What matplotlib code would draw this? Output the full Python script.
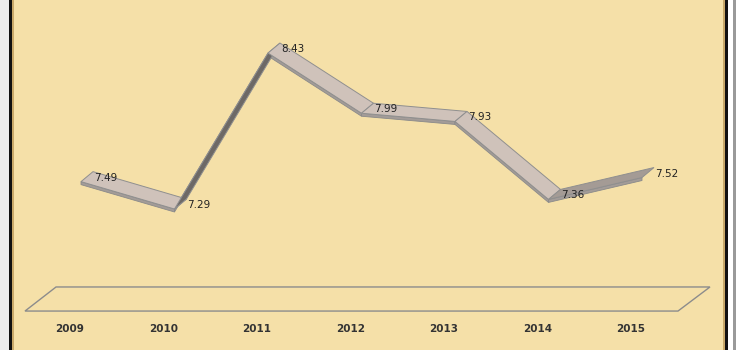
import numpy as np
import matplotlib
matplotlib.use('Agg')
import matplotlib.pyplot as plt
import matplotlib.patches as mpatches
from matplotlib.colors import to_rgb

years = ['2009', '2010', '2011', '2012', '2013', '2014', '2015']
values = [7.49, 7.29, 8.43, 7.99, 7.93, 7.36, 7.52]

# pixels per data unit (x: per category, y: per value unit)
PX_X = 93.5
PX_Y = 136.8
# depth offset of the ribbon and its thickness, in pixels
DEPTH = (12, 10)
THICK = 3

LIGHT = np.array(to_rgb('#cfc2ba'))
DARK = np.array(to_rgb('#6d6966'))

fig = plt.figure(figsize=(7.4, 3.5), dpi=100)
fig.patch.set_facecolor('white')

# decoration layer in pixel coords (frame + parchment)
deco = fig.add_axes([0, 0, 1, 1])
deco.set_xlim(0, 740)
deco.set_ylim(350, 0)
deco.set_axis_off()
deco.add_patch(mpatches.Rectangle((0, 0), 9, 350, color='#ececec', lw=0))
deco.add_patch(mpatches.Rectangle((9, 0), 3, 350, color='#111111', lw=0))
deco.add_patch(mpatches.Rectangle((12, 0), 2, 350, color='#c9a96a', lw=0))
deco.add_patch(mpatches.Rectangle((14, 0), 709, 350, color='#f5e0a8', lw=0))
deco.add_patch(mpatches.Rectangle((723, 0), 2, 350, color='#c9a96a', lw=0))
deco.add_patch(mpatches.Rectangle((725, 0), 3, 350, color='#111111', lw=0))
deco.add_patch(mpatches.Rectangle((733, 0), 3, 350, color='#9a9a9a', lw=0))

ax = fig.add_axes([0, 0, 1, 1])
ax.patch.set_alpha(0)
ax.set_axis_off()
x0, y0 = 81, 209  # pixel position of first category / value 7.29
ax.set_xlim(-x0 / PX_X, (740 - x0) / PX_X)
ax.set_ylim(7.29 - (350 - y0) / PX_Y, 7.29 + y0 / PX_Y)

dx = DEPTH[0] / PX_X
dy = DEPTH[1] / PX_Y
th = THICK / PX_Y

# floor
floor = [(-0.599, 6.544), (6.385, 6.544), (6.727, 6.72), (-0.267, 6.72)]
ax.add_patch(mpatches.Polygon(floor, closed=True, fill=False,
                              edgecolor='#8c8c8c', lw=1.0))

xs = np.arange(len(values))
for i in range(len(values) - 1):
    xa, ya = xs[i], values[i]
    xb, yb = xs[i + 1], values[i + 1]
    sx = (xb - xa) * PX_X
    sy = (yb - ya) * PX_Y
    # rising segments show their darker side, darker the steeper
    if sy > 0:
        ang = np.degrees(np.arctan2(sy, sx))
        k = min(1.0, ang / 30.0)
    else:
        k = 0.0
    fc = LIGHT * (1 - k) + DARK * k
    # thin front face
    side = [(xa, ya), (xb, yb), (xb, yb - th), (xa, ya - th)]
    ax.add_patch(mpatches.Polygon(side, closed=True, facecolor='#a39c98',
                                  edgecolor='#8a8a8a', lw=0.6, zorder=2))
    top = [(xa, ya), (xb, yb), (xb + dx, yb + dy), (xa + dx, ya + dy)]
    ax.add_patch(mpatches.Polygon(top, closed=True, facecolor=fc,
                                  edgecolor='#8f8f8f', lw=0.7, zorder=3))

for x, v in zip(xs, values):
    ax.text(x + 13 / PX_X, v + 4 / PX_Y, f'{v:.2f}', fontsize=7.5,
            color='#222222', ha='left', va='center', zorder=5)

for x, lab in zip(xs, years):
    ax.text(x - 11 / PX_X, 7.29 - 120 / PX_Y, lab, fontsize=7.5,
            color='#333333', ha='center', va='center', fontweight='bold')

fig.savefig('out.png', dpi=100)
